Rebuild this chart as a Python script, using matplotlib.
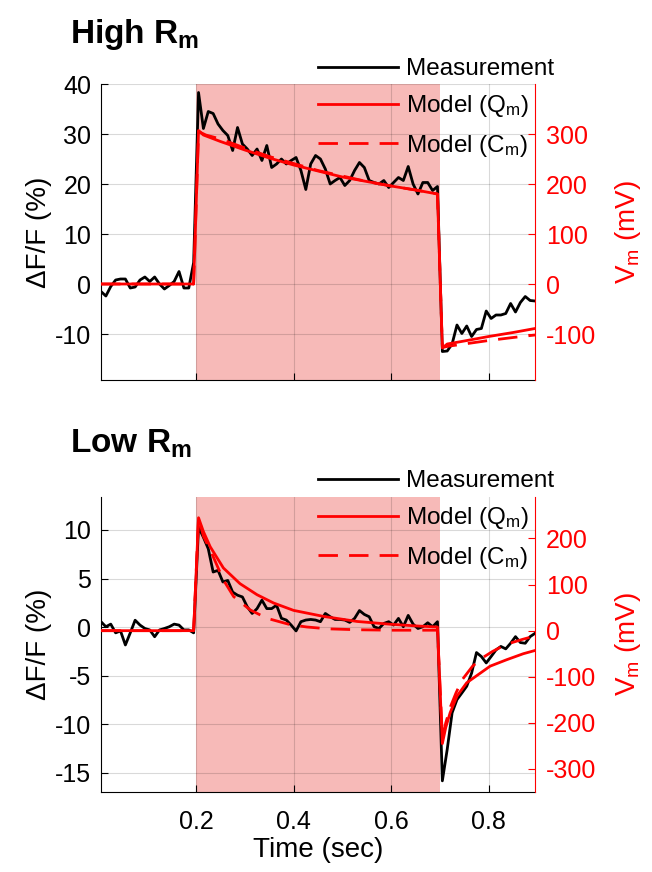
#!/usr/bin/env python
# Two stacked panels: measured dF/F (left axis) and model Vm (right axis, red)

import numpy as np
import matplotlib
matplotlib.use('Agg')
import matplotlib.pyplot as plt

plt.rcParams['font.family'] = ['Liberation Sans', 'DejaVu Sans']
plt.rcParams['mathtext.fontset'] = 'custom'
plt.rcParams['mathtext.rm'] = 'Liberation Sans'
plt.rcParams['mathtext.it'] = 'Liberation Sans:italic'
plt.rcParams['mathtext.bf'] = 'Liberation Sans:bold'
plt.rcParams['axes.unicode_minus'] = False

# sample times of the measurement (sec)
t_meas = np.round(0.005 + 0.01*np.arange(90), 3)

# High Rm panel -- measurement (%)
high_meas = [-1.5, -2.4, -0.5, 0.8, 1.0, 1.0, -0.8, -0.6, 0.8, 1.4,
             0.5, 1.4, 0.0, -1.0, -0.3, 0.5, 2.5, -0.8, -0.8, 4.3,
             38.3, 31.1, 34.5, 34.1, 32.0, 30.7, 29.7, 26.7, 31.3, 28.0,
             27.0, 25.7, 27.0, 24.7, 27.7, 23.3, 24.0, 25.0, 24.0, 24.7,
             25.3, 22.7, 18.9, 24.0, 25.7, 25.0, 23.0, 20.0, 20.7, 21.3,
             19.7, 20.7, 22.7, 24.3, 23.3, 20.7, 20.3, 20.0, 20.7, 19.3,
             20.3, 21.3, 20.7, 23.5, 20.0, 18.0, 20.3, 20.3, 18.7, 19.5,
             -13.5, -13.4, -12.0, -8.2, -9.9, -8.4, -10.5, -9.1, -8.9, -5.4,
             -6.9, -6.2, -6.2, -5.9, -3.9, -5.6, -3.7, -2.5, -3.3, -3.4]

# High Rm panel -- models (mV)
high_q_t = [0.005, 0.195, 0.205, 0.215, 0.25, 0.3, 0.35, 0.4, 0.45, 0.5,
            0.55, 0.6, 0.65, 0.695, 0.705, 0.715, 0.75, 0.8, 0.85, 0.895]
high_q = [0, 0, 307, 298, 285, 268, 252, 238, 226, 214,
          205, 196, 188, 180, -128, -120, -114, -105, -97, -89]
high_c_t = [0.005, 0.195, 0.205, 0.22, 0.25, 0.3, 0.35, 0.4, 0.45, 0.5,
            0.55, 0.6, 0.65, 0.695, 0.705, 0.72, 0.75, 0.8, 0.85, 0.895]
high_c = [0, 0, 305, 298, 290, 272, 255, 241, 227, 216,
          205, 196, 188, 180, -127, -124, -120, -113, -107, -102]

# Low Rm panel -- measurement (%)
low_meas = [0.55, 0.03, 0.3, -0.6, -0.4, -1.85, -0.6, 0.7, 0.2, -0.15,
            -0.3, -1.0, -0.3, -0.15, 0.03, 0.3, 0.2, -0.3, -0.3, -0.6,
            10.3, 9.25, 8.06, 5.67, 5.84, 4.64, 4.8, 3.6, 3.28, 3.1,
            2.08, 1.4, 1.9, 2.77, 1.9, 1.9, 2.25, 0.9, 0.72, 0.2,
            -0.4, 0.55, 0.72, 0.78, 0.72, 0.55, 1.4, 1.06, 0.78, 0.78,
            0.72, 0.48, 0.89, 1.7, 1.3, 1.06, 0.03, -0.15, 0.37, 0.55,
            0.2, 0.89, 0.03, 1.2, 0.3, -0.15, 0.03, 0.44, 0.03, 0.55,
            -15.85, -12.6, -8.84, -7.48, -6.8, -6.1, -4.75, -2.63, -3.04, -3.7,
            -3.04, -2.36, -2.0, -2.25, -1.67, -0.99, -1.6, -1.67, -0.99, -0.65]

# Low Rm panel -- models (mV)
low_q_t = [0.005, 0.195, 0.205, 0.215, 0.229, 0.256, 0.29, 0.325, 0.359, 0.4,
           0.461, 0.53, 0.598, 0.656, 0.695, 0.705, 0.712, 0.721, 0.735, 0.755,
           0.783, 0.803, 0.837, 0.871, 0.895]
low_q = [0, 0, 245, 215, 182, 136, 102, 78, 60, 44,
         31, 20, 14, 10, 8, -245, -210, -178, -142, -113,
         -92, -77, -63, -50, -43]
low_c_t = [0.005, 0.195, 0.205, 0.215, 0.232, 0.256, 0.277, 0.311, 0.345, 0.393,
           0.427, 0.47, 0.53, 0.6, 0.695, 0.705, 0.712, 0.722, 0.733, 0.746,
           0.767, 0.787, 0.808, 0.835, 0.869, 0.893]
low_c = [0, 0, 245, 205, 168, 110, 74, 45, 27, 13,
         8, 4, 2, 1, 1, -230, -200, -164, -135, -106,
         -77, -59, -45, -30, -19, -12]

shade = (0.97, 0.73, 0.72)
W, H = 652., 872.


def panel(rect, meas, qt, q, ct, c, ylim, rlim, yticks, rticks, xlabels):
    ax = fig.add_axes(rect)
    ax.axvspan(0.2, 0.7, color=shade, lw=0, zorder=0)
    line_m, = ax.plot(t_meas, meas, color='k', lw=2)
    ax.set_xlim(0.005, 0.895)
    ax.set_ylim(ylim)
    ax.set_yticks(yticks)
    ax.set_xticks([0.2, 0.4, 0.6, 0.8])
    if not xlabels:
        ax.set_xticklabels([])
    ax.grid(True, color='k', alpha=0.15, lw=0.8)
    ax.tick_params(direction='in', length=5, labelsize=18)
    ax.tick_params(axis='y', pad=7)
    ax.tick_params(axis='x', pad=13)
    ax.spines['top'].set_visible(False)
    ax.spines['right'].set_visible(False)
    ax.set_ylabel('\u0394F/F (%)', fontsize=20, labelpad=2)

    axr = ax.twinx()
    line_q, = axr.plot(qt, q, color='r', lw=2)
    line_c, = axr.plot(ct, c, color='r', lw=2, dashes=(7, 4))
    axr.set_ylim(rlim)
    axr.set_yticks(rticks)
    axr.tick_params(direction='in', length=5, labelsize=18, colors='r', pad=8)
    for s in ['top', 'left', 'bottom']:
        axr.spines[s].set_visible(False)
    axr.spines['right'].set_color('r')
    axr.set_ylabel(r'V$_\mathregular{m}$ (mV)', color='r', fontsize=20, labelpad=12)
    return ax, [line_m, line_q, line_c]


fig = plt.figure(figsize=(6.52, 8.72), dpi=100)

labels = ['Measurement', r'Model (Q$_\mathregular{m}$)', r'Model (C$_\mathregular{m}$)']

ax1, h1 = panel([101/W, 1-380/H, 434/W, 296/H], high_meas, high_q_t, high_q,
                high_c_t, high_c, (-19.2, 40), (-192, 400),
                [-10, 0, 10, 20, 30, 40], [-100, 0, 100, 200, 300], False)
ax2, h2 = panel([101/W, 1-792/H, 434/W, 295/H], low_meas, low_q_t, low_q,
                low_c_t, low_c, (-17, 13.4), (-350, 290),
                [-15, -10, -5, 0, 5, 10], [-300, -200, -100, 0, 100, 200], True)
ax2.set_xlabel('Time (sec)', fontsize=20, labelpad=2)

fig.text(70/W, 1-43/H, r'$\mathbf{High\ R_m}$', fontsize=24, ha='left', va='baseline')
fig.text(70/W, 1-453/H, r'$\mathbf{Low\ R_m}$', fontsize=24, ha='left', va='baseline')

for h, top in [(h1, 58), (h2, 470)]:
    fig.legend(h, labels, loc='upper left', bbox_to_anchor=(318/W, 1-top/H),
               frameon=False, fontsize=17.5, handlelength=3.3, handletextpad=0.3,
               labelspacing=0.55, borderpad=0, borderaxespad=0)

fig.savefig('out.png', dpi=100)
